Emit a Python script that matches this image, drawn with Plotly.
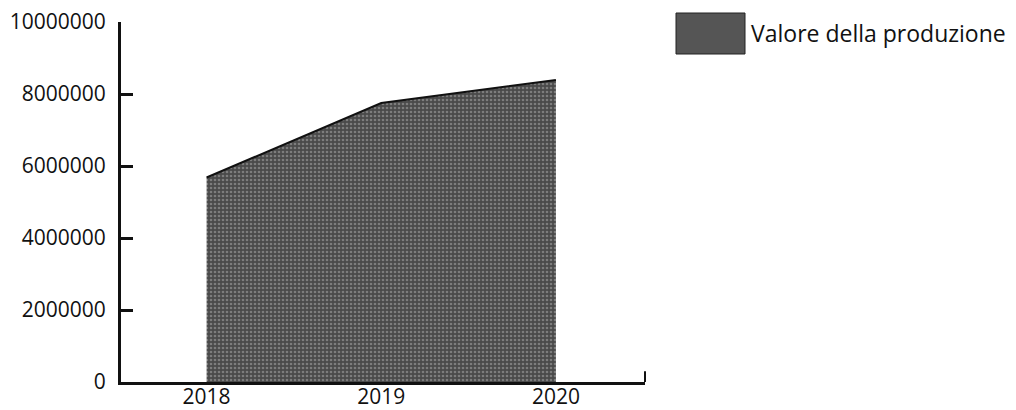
import plotly.graph_objects as go

years = ["2018", "2019", "2020"]
valore_produzione = [5680000, 7750000, 8390000]
y_ticks = [0, 2000000, 4000000, 6000000, 8000000, 10000000]
y_tick_labels = ["0", "2000000", "4000000", "6000000", "8000000", "10000000"]
series_name = "Valore della produzione"

FONT = "Open Sans"

fig = go.Figure()
fig.add_trace(go.Scatter(
    x=years, y=valore_produzione, mode="lines", fill="tozeroy",
    name=series_name, showlegend=False,
    line=dict(color="#111111", width=2),
    fillcolor="#5a5a5a",
    fillpattern=dict(shape=".", bgcolor="#4a4a4a", fgcolor="#b0b0b0", size=4, solidity=0.35),
))

# page body has ~8px margin, so the figure is shrunk by 8px and margins shifted
fig.update_layout(
    width=1008, height=402,
    margin=dict(l=113, r=371, t=14, b=28),
    paper_bgcolor="white", plot_bgcolor="white",
    font=dict(family=FONT, size=21, color="#111111"),
    xaxis=dict(type="category", range=[-0.49, 2.51], showgrid=False, zeroline=False,
               showline=True, linecolor="#111111", linewidth=3, ticks="",
               ticklabelstandoff=-6, ticklabeloverflow="allow",
               tickfont=dict(family=FONT, size=21), automargin=False),
    yaxis=dict(range=[0, 10000000], showgrid=False, zeroline=False,
               showline=True, linecolor="#111111", linewidth=3,
               tickvals=y_ticks, ticktext=y_tick_labels, ticks="inside",
               ticklen=12, tickwidth=3, tickcolor="#111111",
               ticklabelstandoff=8, ticklabeloverflow="allow",
               tickfont=dict(family=FONT, size=21), automargin=False),
)

# end tick at right of x axis
fig.add_shape(type="line", xref="paper", yref="paper", x0=1, x1=1, y0=0, y1=0.03,
              line=dict(color="#111111", width=2))

# legend drawn as a box + label
fig.add_shape(type="rect", xref="paper", yref="paper",
              x0=(676 - 121) / 524, x1=(745 - 121) / 524,
              y0=(382 - 54) / 360, y1=(382 - 13) / 360,
              line=dict(color="#222222", width=1),
              fillcolor="#555555")
fig.add_annotation(xref="paper", yref="paper", x=(749 - 121) / 524, y=(382 - 33) / 360,
                   text=series_name, showarrow=False, xanchor="left", yanchor="middle",
                   font=dict(family=FONT, size=23, color="#111111"))

fig.write_html("out.html")
